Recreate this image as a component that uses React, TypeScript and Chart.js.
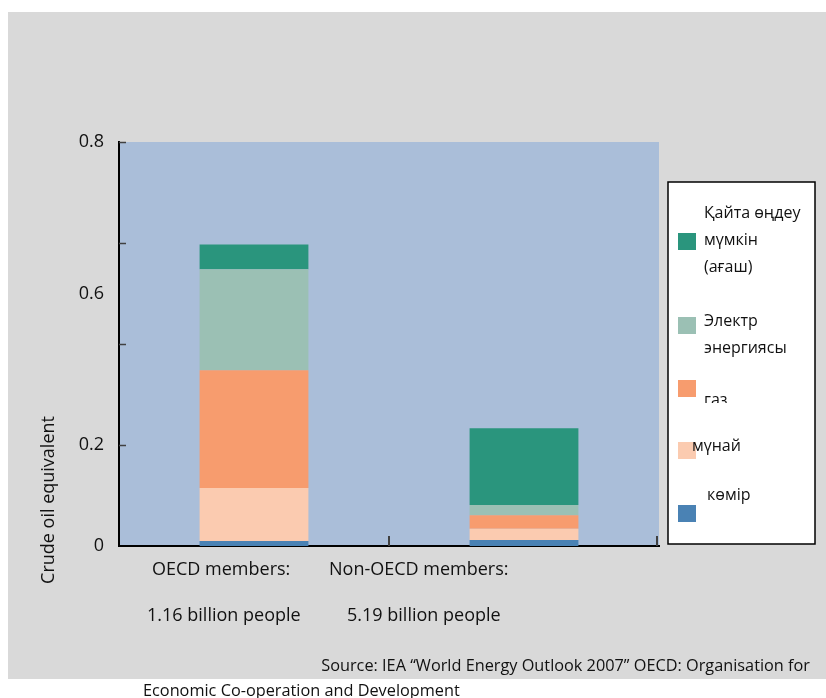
import React, { useEffect, useRef } from 'react';
import { Chart, registerables } from 'chart.js';

Chart.register(...registerables);

// Per-capita energy use by source, in crude oil equivalent
const categories = ['OECD members:', 'Non-OECD members:'];
const populations = ['1.16 billion people', '5.19 billion people'];
const seriesNames = ['көмір', 'мүнай', 'газ', 'Электр энергиясы', 'Қайта өңдеу мүмкін (ағаш)'];
const coal = [0.01, 0.012];
const oil = [0.105, 0.022];
const gas = [0.233, 0.027];
const electricity = [0.2, 0.02];
const renewables = [0.049, 0.152];
const seriesColors = ['#4A82B4', '#FBCBB0', '#F79C6E', '#9BC0B4', '#2A957D'];

// legend entries broken into lines, same order as the series
const legendLines = [['көмір'], ['мүнай'], ['газ'], ['Электр', 'энергиясы'], ['Қайта өңдеу', 'мүмкін', '(ағаш)']];

// y axis: tick marks every 0.2, labels as printed on the axis
const yTickMarks = [0.2, 0.4, 0.6, 0.8];
const yLabelValues = [0, 0.2, 0.5, 0.8];
const yLabelTexts = ['0', '0.2', '0.6', '0.8'];
const yTitle = 'Crude oil equivalent';
const sourceLines = [
  'Source: IEA \u201cWorld Energy Outlook 2007\u201d OECD: Organisation for',
  'Economic Co-operation and Development',
];

const FONT = '"Open Sans", "Noto Sans", sans-serif';

// legend text placement relative to each swatch (top → bottom: renewables … coal)
const legendLayout = [
  { swatchY: 233, textX: 704, textY: 213, clipBottom: 0 },
  { swatchY: 317, textX: 704, textY: 321, clipBottom: 0 },
  { swatchY: 380, textX: 704, textY: 400, clipBottom: 403 },
  { swatchY: 442, textX: 692, textY: 446, clipBottom: 0 },
  { swatchY: 505, textX: 707, textY: 495, clipBottom: 0 },
];

const decorPlugin = {
  id: 'decor',
  beforeDraw(chart: any) {
    const { ctx, chartArea } = chart;
    ctx.save();
    ctx.fillStyle = '#ffffff';
    ctx.fillRect(0, 0, chart.width, chart.height);
    ctx.fillStyle = '#D9D9D9';
    ctx.fillRect(8, 12, chart.width - 8, 667);
    ctx.fillStyle = '#AABED9';
    ctx.fillRect(chartArea.left, chartArea.top, chartArea.right - chartArea.left, chartArea.bottom - chartArea.top);
    ctx.restore();
  },
  afterDraw(chart: any) {
    const { ctx, chartArea, scales } = chart;
    const yS = scales.y;
    const xS = scales.x;
    ctx.save();

    // inner tick marks on the value axis
    ctx.strokeStyle = '#404040';
    ctx.lineWidth = 1.5;
    for (const v of yTickMarks) {
      const y = Math.round(yS.getPixelForValue(v)) + 0.5;
      ctx.beginPath();
      ctx.moveTo(chartArea.left, y);
      ctx.lineTo(chartArea.left + 7, y);
      ctx.stroke();
    }
    // inner tick marks on the category axis (category boundaries)
    const bounds = [
      (xS.getPixelForValue(0) + xS.getPixelForValue(1)) / 2,
      chartArea.right - 2,
    ];
    ctx.lineWidth = 2;
    for (const bx of bounds) {
      ctx.beginPath();
      ctx.moveTo(Math.round(bx), chartArea.bottom);
      ctx.lineTo(Math.round(bx), chartArea.bottom - 10);
      ctx.stroke();
    }

    // category labels
    ctx.fillStyle = '#111111';
    ctx.font = `18px ${FONT}`;
    ctx.textAlign = 'left';
    ctx.textBaseline = 'middle';
    const catLeft = [152, 329];
    const popLeft = [147, 347];
    categories.forEach((c, i) => ctx.fillText(c, catLeft[i], 570));
    populations.forEach((p, i) => ctx.fillText(p, popLeft[i], 616));

    // value axis title
    ctx.save();
    ctx.translate(49, 500);
    ctx.rotate(-Math.PI / 2);
    ctx.textAlign = 'center';
    ctx.font = `18px ${FONT}`;
    ctx.fillText(yTitle, 0, 0);
    ctx.restore();

    // legend
    const lx = 668, ly = 182, lw = 147, lh = 362;
    ctx.fillStyle = '#ffffff';
    ctx.fillRect(lx, ly, lw, lh);
    ctx.strokeStyle = '#000000';
    ctx.lineWidth = 1.5;
    ctx.strokeRect(lx, ly, lw, lh);
    ctx.font = `16px ${FONT}`;
    const n = seriesNames.length;
    for (let k = 0; k < n; k++) {
      const i = n - 1 - k;
      const lay = legendLayout[k];
      ctx.fillStyle = seriesColors[i];
      ctx.fillRect(678, lay.swatchY, 18, 17);
      ctx.save();
      if (lay.clipBottom) {
        ctx.beginPath();
        ctx.rect(lx, ly, lw, lay.clipBottom - ly);
        ctx.clip();
      }
      ctx.fillStyle = '#111111';
      ctx.textAlign = 'left';
      ctx.textBaseline = 'middle';
      legendLines[i].forEach((ln, j) => ctx.fillText(ln, lay.textX, lay.textY + j * 27));
      ctx.restore();
    }

    // source note
    ctx.fillStyle = '#111111';
    ctx.font = `16.3px ${FONT}`;
    ctx.textAlign = 'right';
    ctx.textBaseline = 'middle';
    ctx.fillText(sourceLines[0], 810, 666);
    ctx.textAlign = 'left';
    ctx.fillText(sourceLines[1], 143, 691);

    ctx.restore();
  },
};

export default function App() {
  const canvasRef = useRef<HTMLCanvasElement | null>(null);

  useEffect(() => {
    if (!canvasRef.current) return;
    const values = [coal, oil, gas, electricity, renewables];
    const chart = new Chart(canvasRef.current, {
      type: 'bar',
      data: {
        labels: categories,
        datasets: seriesNames.map((name, i) => ({
          label: name,
          data: values[i],
          backgroundColor: seriesColors[i],
          borderWidth: 0,
          barPercentage: 0.403,
          categoryPercentage: 1,
        })),
      },
      options: {
        responsive: false,
        animation: false,
        devicePixelRatio: 1,
        layout: { padding: { left: 0, top: 142, right: 167, bottom: 152 } },
        plugins: {
          legend: { display: false },
          tooltip: { enabled: false },
          title: { display: false },
        },
        scales: {
          x: {
            stacked: true,
            offset: true,
            grid: { display: false, drawTicks: false },
            border: { display: true, color: '#000000', width: 2 },
            ticks: { display: false },
            afterFit(scale: any) {
              scale.height = 0;
            },
          },
          y: {
            stacked: true,
            min: 0,
            max: 0.8,
            grid: { display: false, drawTicks: false },
            border: { display: true, color: '#000000', width: 2 },
            afterBuildTicks(scale: any) {
              scale.ticks = yLabelValues.map((v) => ({ value: v }));
            },
            afterFit(scale: any) {
              scale.width = 119;
            },
            ticks: {
              padding: 15,
              color: '#111111',
              font: { family: FONT, size: 18 },
              callback(value: any) {
                const idx = yLabelValues.findIndex((v) => Math.abs(v - Number(value)) < 1e-6);
                return idx >= 0 ? yLabelTexts[idx] : '';
              },
            },
          },
        },
      },
      plugins: [decorPlugin],
    });
    return () => chart.destroy();
  }, []);

  return (
    <div style={{ position: 'absolute', left: 0, top: 0, width: 826, height: 698 }}>
      <canvas ref={canvasRef} width={826} height={698} style={{ display: 'block', width: 826, height: 698 }} />
    </div>
  );
}
